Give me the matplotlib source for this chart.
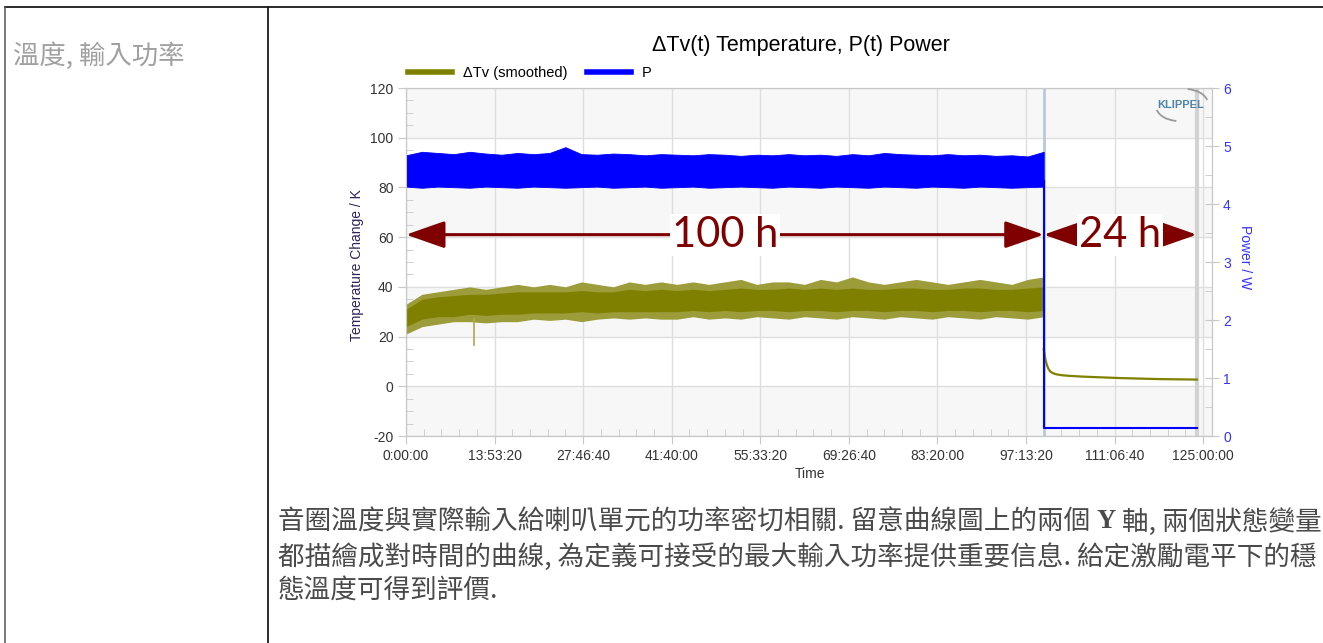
import matplotlib.pyplot as plt
from matplotlib.lines import Line2D
from matplotlib.patches import Arc
from matplotlib.ticker import MultipleLocator, FuncFormatter

W, H = 1323, 643
CJK = ['Noto Sans CJK TC', 'DejaVu Sans']
plt.rcParams['font.family'] = ['Liberation Sans', 'DejaVu Sans']
plt.rcParams['axes.unicode_minus'] = False

# ---- data ----
# noisy part, 0..100 h, sampled every 2.5 h
hours = [0, 2.5, 5, 7.5, 10, 12.5, 15, 17.5, 20, 22.5, 25, 27.5, 30, 32.5, 35, 37.5,
         40, 42.5, 45, 47.5, 50, 52.5, 55, 57.5, 60, 62.5, 65, 67.5, 70, 72.5, 75,
         77.5, 80, 82.5, 85, 87.5, 90, 92.5, 95, 97.5, 100]
temp_top = [33, 37, 38, 39, 40, 39, 40, 41, 40, 41, 40, 42, 41, 40, 42, 41,
            42, 41, 42, 41, 42, 43, 41, 42, 42, 41, 43, 42, 44, 42, 41,
            42, 43, 42, 41, 42, 43, 42, 41, 43, 44]
temp_core_hi = [31, 35, 36, 36.5, 37, 37, 37.5, 38, 38, 38, 38, 38.5, 38, 38, 39, 38.5,
                39, 38.5, 39, 38.5, 39, 39.5, 39, 39, 39.5, 39, 39.5, 39, 39.5, 39, 39,
                39.5, 39.5, 39, 39, 39.5, 39.5, 39, 39, 39.5, 40]
temp_core_lo = [24, 27, 28, 28, 29, 28.5, 29, 29, 29.5, 29.5, 29.5, 30, 29.5, 30, 30, 30,
                30, 30, 30.5, 30, 30.5, 30, 30.5, 30.5, 30, 30.5, 30.5, 30, 30.5, 30.5, 30,
                30.5, 30.5, 30, 30.5, 30.5, 30, 30.5, 30.5, 30, 30.5]
temp_bot = [21, 24, 25, 26, 26, 25.5, 26, 26, 27, 26.5, 27, 26, 27, 27.5, 27, 27.5,
            27, 27, 28, 27, 27.5, 27, 28, 27.5, 27, 28, 27.5, 27, 28, 27.5, 27,
            28, 27.5, 27, 28, 27.5, 27, 28, 27.5, 27, 28]
pow_top = [4.84, 4.90, 4.88, 4.86, 4.90, 4.87, 4.85, 4.88, 4.86, 4.88, 4.98, 4.86, 4.85, 4.87, 4.86, 4.84,
           4.86, 4.85, 4.84, 4.86, 4.85, 4.83, 4.85, 4.84, 4.86, 4.84, 4.85, 4.83, 4.86, 4.84, 4.88,
           4.86, 4.85, 4.84, 4.86, 4.84, 4.85, 4.83, 4.84, 4.82, 4.90]
pow_bot = [4.30, 4.28, 4.30, 4.29, 4.28, 4.30, 4.29, 4.28, 4.30, 4.29, 4.28, 4.29, 4.30, 4.28, 4.29, 4.30,
           4.28, 4.29, 4.30, 4.28, 4.29, 4.30, 4.29, 4.28, 4.30, 4.29, 4.28, 4.30, 4.29, 4.28, 4.30,
           4.29, 4.28, 4.30, 4.29, 4.28, 4.30, 4.29, 4.28, 4.29, 4.30]
spike_hour, spike_from, spike_to = 10.7, 27, 16.5

# cool-down part, 100..124 h
cool_hours = [100, 100.25, 100.5, 100.75, 101, 101.5, 102, 103, 104, 106, 108, 110, 112, 115, 118, 121, 124]
cool_temp = [15, 11, 8.5, 7, 6, 5.2, 4.8, 4.4, 4.2, 3.9, 3.7, 3.5, 3.3, 3.1, 2.9, 2.8, 2.7]
cool_pow_hours = [100, 100, 124]
cool_pow = [4.40, 0.14, 0.14]

cursor_hours = [100, 124]
arrow_spans = [(0, 100, '100 h', 50), (100, 124, '24 h', 112)]
arrow_level = 61

x_ticks_step = 50000      # seconds
x_max = 455000

sec = lambda hs: [h * 3600 for h in hs]

# ---- figure ----
fig = plt.figure(figsize=(W / 100, H / 100), dpi=100)

ax = fig.add_axes([406 / W, 1 - 436 / H, 806 / W, 348 / H])
ax.set_xlim(0, x_max)
ax.set_ylim(-20, 120)
for lo in (-20, 20, 60, 100):
    ax.axhspan(lo, lo + 20, color='#f7f7f7', zorder=0, lw=0)
ax.grid(which='major', color='#dedede', lw=1, zorder=0.5)
ax.set_axisbelow(True)

olive = '#808000'
ax.fill_between(sec(hours), temp_bot, temp_top, color='#9c9c3a', lw=0, zorder=2)
ax.fill_between(sec(hours), temp_core_lo, temp_core_hi, color=olive, lw=0, zorder=2)
ax.plot(sec([spike_hour, spike_hour]), [spike_from, spike_to], color='#a9a94f', lw=1.2, zorder=2)
ax.plot(sec(cool_hours), cool_temp, color=olive, lw=1.6, zorder=2)

ax.axvline(cursor_hours[0] * 3600, color='#b8c9da', lw=2, zorder=1)
ax.axvline(cursor_hours[1] * 3600, color='#d2d2d2', lw=3, zorder=1)

ax.xaxis.set_major_locator(MultipleLocator(x_ticks_step))
ax.xaxis.set_minor_locator(MultipleLocator(x_ticks_step / 5))
ax.xaxis.set_major_formatter(FuncFormatter(
    lambda v, p: f"{int(v) // 3600}:{int(v) % 3600 // 60:02d}:{int(v) % 60:02d}"))
ax.yaxis.set_major_locator(MultipleLocator(20))
ax.yaxis.set_minor_locator(MultipleLocator(5))
ax.tick_params(which='major', direction='out', length=6, color='#c8c8c8',
               labelsize=10, labelcolor='#333333', pad=3)
ax.tick_params(which='minor', direction='in', length=5, color='#c8c8c8')
for s in ax.spines.values():
    s.set_color('#c8c8c8')

# annotation arrows
for h0, h1, label, hmid in arrow_spans:
    ax.annotate('', xy=(h0 * 3600, arrow_level), xytext=(h1 * 3600, arrow_level),
                arrowprops=dict(arrowstyle='<|-|>,head_length=0.8,head_width=0.28',
                                mutation_scale=30, color='#800000', lw=2.2,
                                shrinkA=0, shrinkB=0), zorder=4)
    ax.text(hmid * 3600, arrow_level, label, ha='center', va='center', fontsize=30,
            family=['Lato', 'DejaVu Sans'], color='#800000', zorder=5,
            bbox=dict(boxstyle='square,pad=0.05', fc='white', ec='none'))

ax2 = ax.twinx()
ax2.set_ylim(0, 6)
ax2.fill_between(sec(hours), pow_bot, pow_top, color='#0000ff', lw=0.6, zorder=2)
ax2.plot(sec(cool_pow_hours), cool_pow, color='#0000ff', lw=1.5, zorder=2)
ax2.yaxis.set_major_locator(MultipleLocator(1))
ax2.yaxis.set_minor_locator(MultipleLocator(0.5))
ax2.tick_params(which='major', direction='inout', length=10, color='#c8c8c8',
                labelsize=10, labelcolor='#3333ff', pad=3)
ax2.tick_params(which='minor', direction='in', length=5, color='#c8c8c8')
for s in ax2.spines.values():
    s.set_color('#c8c8c8')

# titles, labels, legend
fig.text(801 / W, 1 - 46 / H, 'ΔTv(t) Temperature, P(t) Power', ha='center', va='center', fontsize=15.5)
fig.text(357 / W, 1 - 265 / H, 'Temperature Change / K', rotation=90, ha='center', va='center',
         fontsize=10, color='#33205a')
fig.text(1245 / W, 1 - 257 / H, 'Power / W', rotation=-90, ha='center', va='center',
         fontsize=10, color='#3333ff')
fig.text(810 / W, 1 - 474 / H, 'Time', ha='center', va='center', fontsize=10, color='#333333')
handles = [Line2D([], [], color=olive, lw=4), Line2D([], [], color='#0000ff', lw=4)]
fig.legend(handles, ['ΔTv (smoothed)', 'P'], loc='center left', bbox_to_anchor=(408 / W, 1 - 73 / H),
           ncol=2, frameon=False, fontsize=10.5, handlelength=3.0, handletextpad=0.75,
           columnspacing=1.35, borderaxespad=0, borderpad=0)

# ---- page layout (table cells, captions), pixel coordinates ----
page = fig.add_axes([0, 0, 1, 1], zorder=5)
page.set_xlim(0, W)
page.set_ylim(H, 0)
page.axis('off')
page.plot([5, W], [7, 7], color='#1a1a1a', lw=1.3)
page.plot([5, 5], [7, H], color='#555555', lw=1.1)
page.plot([268, 268], [7, H], color='#1a1a1a', lw=1.3)

page.text(13, 56, '溫度, 輸入功率', family=CJK, fontsize=19, color='#a0a0a0', va='center',
          fontweight='light')

para = ['音圈溫度與實際輸入給喇叭單元的功率密切相關. 留意曲線圖上的兩個 ',
        '都描繪成對時間的曲線, 為定義可接受的最大輸入功率提供重要信息. 給定激勵電平下的穩',
        '態溫度可得到評價.']
line_y = [522, 557, 591]
tcol = '#4a4a4a'
fs = 19.15
t1 = page.text(278, line_y[0], para[0], family=CJK, fontsize=fs, color=tcol, va='center',
               fontweight='light')
t2 = page.annotate('Y', xy=(1, 0.5), xycoords=t1, va='center', ha='left', fontsize=fs,
                   family='Liberation Serif', fontweight='bold', color=tcol)
page.annotate(' 軸, 兩個狀態變量', xy=(1, 0.5), xycoords=t2, va='center', ha='left',
              fontsize=fs, family=CJK, color=tcol, fontweight='light')
page.text(278, line_y[1], para[1], family=CJK, fontsize=fs, color=tcol, va='center', fontweight='light')
page.text(278, line_y[2], para[2], family=CJK, fontsize=fs, color=tcol, va='center', fontweight='light')

# KLIPPEL logo
page.text(1181, 105, 'KLIPPEL', ha='center', va='center', fontsize=8, fontweight='bold',
          color='#4f86a6')
page.add_patch(Arc((1185, 104), 46, 30, theta1=-80, theta2=-10, color='#9a9a9a', lw=1.3))
page.add_patch(Arc((1179, 106), 46, 30, theta1=100, theta2=170, color='#9a9a9a', lw=1.3))

fig.savefig('out.png', dpi=100)
